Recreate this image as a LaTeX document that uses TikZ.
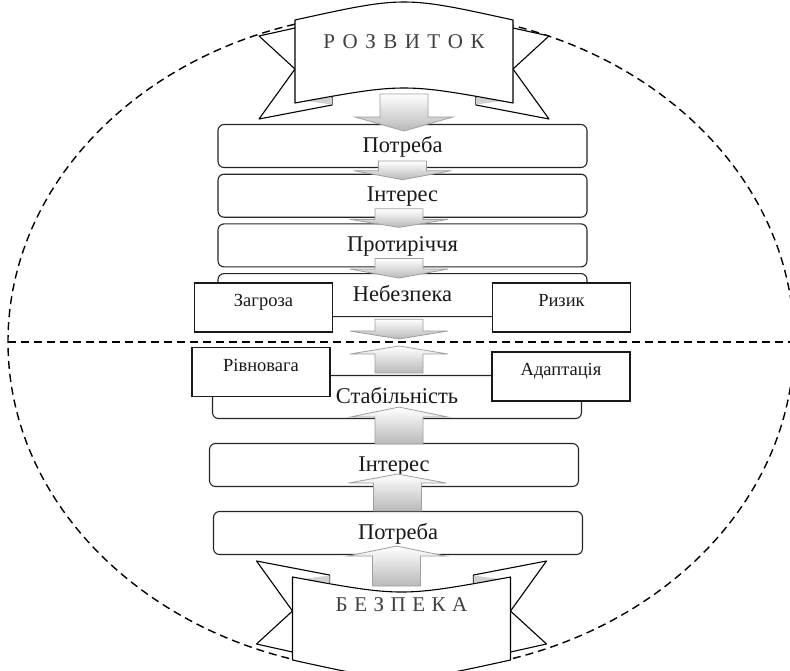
\documentclass[tikz,border=0pt]{standalone}
\usepackage{fontspec}
\setmainfont{Liberation Serif}
\usetikzlibrary{calc}
\tikzset{%
        stepbox/.style = {
            draw = black!85, fill = white, line width = 1.1pt,
            rounded corners = 6pt, minimum width = 369pt, minimum height = 43pt,
            text = black!90, font = \fontsize{22.5}{26}\selectfont,
            text height = 16pt, text depth = 4pt
        },
        sidebox/.style = {
            draw = black!90, fill = white, line width = 1.1pt,
            minimum width = 138pt, minimum height = 49pt,
            text = black!90, font = \fontsize{18.5}{21}\selectfont,
            text height = 12pt, text depth = 14pt
        },
        ribbon/.style = {draw = black, line width = 1.1pt, line join = round},
        fold/.style = {fill = gray!35},
        heading/.style = {text = black!75, font = \fontsize{21}{24}\selectfont},
        blockarrow/.style = {draw = gray!75, line width = 0.8pt, top color = white, bottom color = gray!55},
        oval/.style = {draw = black, line width = 1.4pt, dash pattern = on 8pt off 5pt}
}
\newcommand{\ribbon}{%
        \foreach \side in {-1,1} {
            \draw[ribbon, fill = white, xscale = \side] (109,28) -- (145,36) -- (109,69) -- (145,119) -- (72,105) -- (72,97.5) -- cycle;
            \fill[fold, xscale = \side] (72,97.5) -- (72,104.5) -- (100,100.8) -- cycle;
        }
        \draw[ribbon, fill = white] (-109,20) .. controls (0,-4) .. (109,20) -- (109,103) .. controls (0,83) .. (-109,103) -- cycle;
}
\newcommand{\arrdown}[3]{%
        \path[blockarrow] let \p1 = (#1), \p2 = (#2) in
            ({\x1-24pt},\y1) -- ({\x1+24pt},\y1) -- ({\x1+24pt},{\y2+#3}) -- ({\x1+49pt},{\y2+#3})
            -- (\x1,\y2) -- ({\x1-49pt},{\y2+#3}) -- ({\x1-24pt},{\y2+#3}) -- cycle;
}
\newcommand{\arrup}[3]{%
        \path[blockarrow] let \p1 = (#1), \p2 = (#2) in
            ({\x1-24pt},\y1) -- ({\x1+24pt},\y1) -- ({\x1+24pt},{\y2-#3}) -- ({\x1+49pt},{\y2-#3})
            -- (\x1,\y2) -- ({\x1-49pt},{\y2-#3}) -- ({\x1-24pt},{\y2-#3}) -- cycle;
}
\begin{document}
\begin{tikzpicture}[x = 1pt, y = -1pt, node distance = 49.7pt]
        \useasboundingbox (0,0) rectangle (790,670);
        \draw[oval] (401,342) ellipse [x radius = 393pt, y radius = 330pt];
        \coordinate (left) at (8,342);
        \coordinate (right) at (790,342);
        \draw[oval] (left) -- (right);
        \begin{scope}[shift = {(404,0)}]
            \ribbon
        \end{scope}
        \begin{scope}[shift = {(401.5,680)}, yscale = -1]
            \ribbon
        \end{scope}
        \node[heading] (dev) at (404,42) {\spaceskip=7.5pt Р О З В И Т О К};
        \node[heading] (safe) at (401.5,605) {\spaceskip=6.5pt Б Е З П Е К А};
        \node[stepbox] (1) at (402.5,146) {Потреба};
        \node[stepbox] (2) [below of = 1] {Інтерес};
        \node[stepbox] (3) [below of = 2] {Протиріччя};
        \node[stepbox] (4) [below of = 3] {Небезпека};
        \node[sidebox] (z) at (263.5,307.5) {Загроза};
        \node[sidebox] (r) at (561.5,307.5) {Ризик};
        \node[stepbox] (5) at (397,397) {Стабільність};
        \node[sidebox] (rv) at (261,372) {Рівновага};
        \node[sidebox] (ad) at (561,376.5) {Адаптація};
        \node[stepbox] (6) [node distance = 68pt, below of = 5, xshift = -3pt] {Інтерес};
        \node[stepbox] (7) [node distance = 68pt, below of = 6, xshift = 4pt] {Потреба};
        \coordinate (top) at (404,94);
        \coordinate (bottom) at (396.5,586);
        \coordinate (c5) at (399,339);
        \coordinate (c6) at (399,346);
        \arrdown{top}{$(1.north)+(0,7)$}{14pt}
        \arrdown{$(1.south)+(0,-7)$}{$(2.north)+(0,6)$}{9pt}
        \arrdown{$(2.south)+(-3.5,-9)$}{$(3.north)+(0,4)$}{8pt}
        \arrdown{$(3.south)+(-3.5,-9)$}{$(4.north)+(0,5)$}{9pt}
        \arrdown{$(4.south)+(-3.5,2)$}{c5}{8pt}
        \arrup{$(5.north)+(2,-2)$}{c6}{8pt}
        \arrup{$(6.north)+(5,1)$}{$(5.south)+(0,-12)$}{10pt}
        \arrup{$(7.north)+(-0.5,0)$}{$(6.south)+(0,-13)$}{9pt}
        \arrup{bottom}{$(7.south)+(0,-9)$}{10pt}
\end{tikzpicture}
\end{document}
